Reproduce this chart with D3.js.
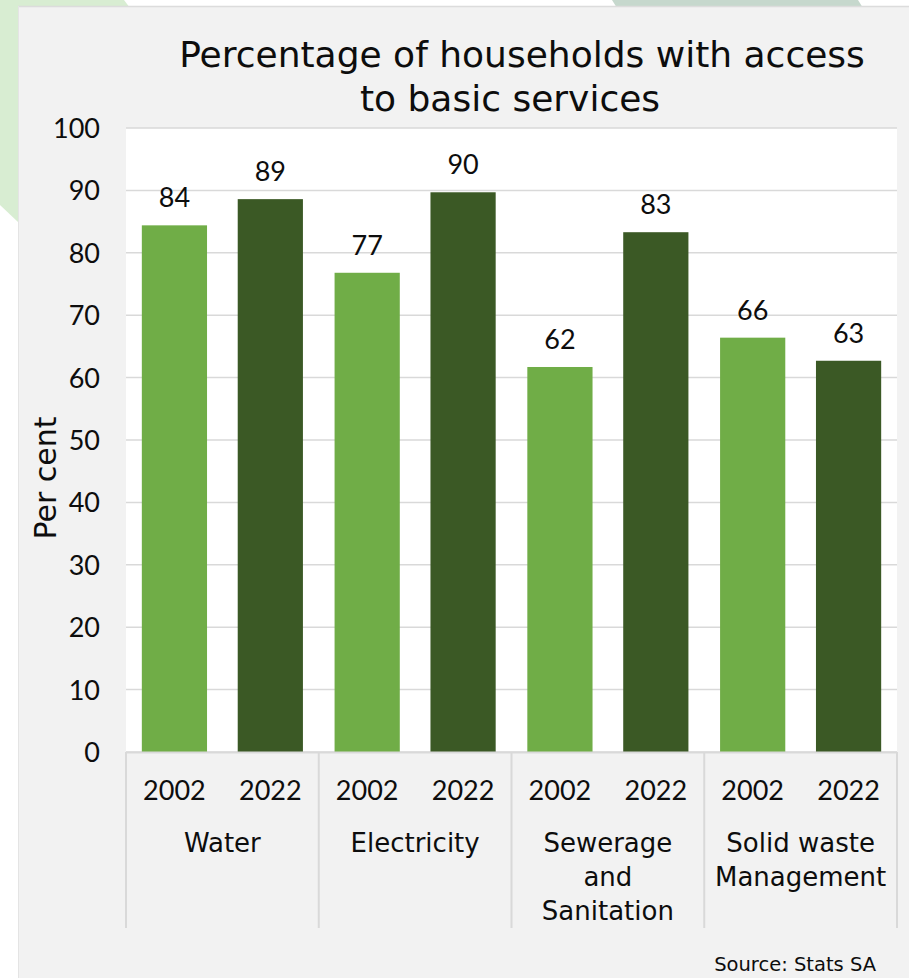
<!DOCTYPE html>
<html>
<head>
<meta charset="utf-8">
<script src="https://cdn.jsdelivr.net/npm/d3@7"></script>
<style>
  html, body { margin: 0; padding: 0; background: #ffffff; }
  svg { display: block; }
  text { fill: #0d0d0d; }
  .num { font-family: "Lato", "Open Sans", sans-serif; }
  .word { font-family: "DejaVu Sans", "Noto Sans", sans-serif; }
</style>
</head>
<body>
<svg id="chart" width="909" height="978"></svg>
<script>
// Household access to basic services, 2002 vs 2022
const categories = ["Water", "Electricity", "Sewerage and Sanitation", "Solid waste Management"];
const categoryLines = [["Water"], ["Electricity"], ["Sewerage", "and", "Sanitation"], ["Solid waste", "Management"]];
const years = ["2002", "2022"];
const values2002 = [84.4, 76.8, 61.7, 66.4];
const values2022 = [88.6, 89.7, 83.3, 62.7];
const yTicks = [0, 10, 20, 30, 40, 50, 60, 70, 80, 90, 100];
const titleLines = ["Percentage of households with access", "to basic services"];
const yAxisTitle = "Per cent";
const sourceText = "Source: Stats SA";

const colors = { "2002": "#70ad47", "2022": "#3b5925" };

const rows = categories.map((c, i) => ({
  category: c,
  lines: categoryLines[i],
  bars: [
    { year: years[0], value: values2002[i] },
    { year: years[1], value: values2022[i] }
  ]
}));

const svg = d3.select("#chart");
const W = 909, H = 978;
const plot = { left: 126, right: 897, top: 128, bottom: 752 };

// decorative corner shapes behind the panel
svg.append("polygon")
  .attr("points", "0,0 124,0 130,8 18,222 0,205")
  .attr("fill", "#d8edd2");
svg.append("polygon")
  .attr("points", "612,0 858,0 863,8 617,8")
  .attr("fill", "#c6d8cd");

// panel
svg.append("rect")
  .attr("x", 18).attr("y", 6).attr("width", W - 18).attr("height", H - 6)
  .attr("fill", "#f2f2f2");
svg.append("line")
  .attr("x1", 18).attr("x2", W).attr("y1", 6.5).attr("y2", 6.5)
  .attr("stroke", "#dcdcdc").attr("stroke-width", 1.5);
svg.append("line")
  .attr("x1", 18.5).attr("x2", 18.5).attr("y1", 6).attr("y2", H)
  .attr("stroke", "#e4e4e4").attr("stroke-width", 1);

// scales
const x0 = d3.scaleBand().domain(categories).range([plot.left, plot.right]).padding(0);
const x1 = d3.scaleBand().domain(years).range([0, x0.bandwidth()])
  .paddingInner(0.32).paddingOuter(0.165);
const y = d3.scaleLinear().domain([0, 100]).range([plot.bottom, plot.top]);

// plot background
svg.append("rect")
  .attr("x", plot.left).attr("y", plot.top)
  .attr("width", plot.right - plot.left).attr("height", plot.bottom - plot.top)
  .attr("fill", "#ffffff");

// gridlines
svg.append("g")
  .selectAll("line")
  .data(yTicks)
  .join("line")
  .attr("x1", plot.left).attr("x2", plot.right)
  .attr("y1", d => y(d)).attr("y2", d => y(d))
  .attr("stroke", "#d9d9d9").attr("stroke-width", 1.5);

// y axis labels
const yAxis = d3.axisLeft(y).tickValues(yTicks).tickSize(0).tickPadding(0).tickFormat(d3.format("d"));
const yG = svg.append("g").attr("transform", `translate(${plot.left - 26},0)`).call(yAxis);
yG.select(".domain").remove();
yG.selectAll("text")
  .attr("class", "num")
  .attr("font-size", 27)
  .attr("font-family", null)
  .attr("fill", "#0d0d0d")
  .attr("dy", "0.35em");
yG.attr("font-family", null);

// bars
const groups = svg.append("g")
  .selectAll("g")
  .data(rows)
  .join("g")
  .attr("transform", d => `translate(${x0(d.category)},0)`);

groups.selectAll("rect")
  .data(d => d.bars)
  .join("rect")
  .attr("x", d => x1(d.year))
  .attr("width", x1.bandwidth())
  .attr("y", d => y(d.value))
  .attr("height", d => y(0) - y(d.value))
  .attr("fill", d => colors[d.year]);

// value labels
groups.selectAll("text.value")
  .data(d => d.bars)
  .join("text")
  .attr("class", "value num")
  .attr("x", d => x1(d.year) + x1.bandwidth() / 2)
  .attr("y", d => y(d.value) - 18)
  .attr("text-anchor", "middle")
  .attr("font-size", 27)
  .text(d => d3.format(".0f")(d.value));

// category axis: baseline and separators
svg.append("line")
  .attr("x1", plot.left).attr("x2", plot.right)
  .attr("y1", plot.bottom + 0.5).attr("y2", plot.bottom + 0.5)
  .attr("stroke", "#d9d9d9").attr("stroke-width", 2);

const bounds = categories.map(c => x0(c)).concat([plot.right]);
svg.append("g")
  .selectAll("line")
  .data(bounds)
  .join("line")
  .attr("x1", d => d).attr("x2", d => d)
  .attr("y1", plot.bottom).attr("y2", 928)
  .attr("stroke", "#d9d9d9").attr("stroke-width", 2);

// year labels
groups.selectAll("text.year")
  .data(d => d.bars)
  .join("text")
  .attr("class", "year num")
  .attr("x", d => x1(d.year) + x1.bandwidth() / 2)
  .attr("y", 800)
  .attr("text-anchor", "middle")
  .attr("font-size", 27)
  .text(d => d.year);

// category labels
groups.append("text")
  .attr("class", "cat word")
  .attr("text-anchor", "middle")
  .attr("font-size", 26)
  .selectAll("tspan")
  .data(d => d.lines)
  .join("tspan")
  .attr("x", x0.bandwidth() / 2)
  .attr("y", (d, i) => 852 + i * 34)
  .text(d => d);

// title, two centred lines (the first line carries its wrapping space)
const title = svg.append("text")
  .attr("class", "word")
  .attr("text-anchor", "middle")
  .attr("font-size", 36);
title.selectAll("tspan")
  .data(titleLines)
  .join("tspan")
  .attr("x", (d, i) => i === 0 ? 522 : 510)
  .attr("y", (d, i) => 67 + i * 44)
  .text(d => d);

// y axis title
svg.append("text")
  .attr("class", "word")
  .attr("transform", "translate(56,478) rotate(-90)")
  .attr("text-anchor", "middle")
  .attr("font-size", 30)
  .text(yAxisTitle);

// source
svg.append("text")
  .attr("class", "word")
  .attr("x", 876).attr("y", 971)
  .attr("text-anchor", "end")
  .attr("font-size", 19.5)
  .attr("fill", "#262626")
  .text(sourceText);
</script>
</body>
</html>
